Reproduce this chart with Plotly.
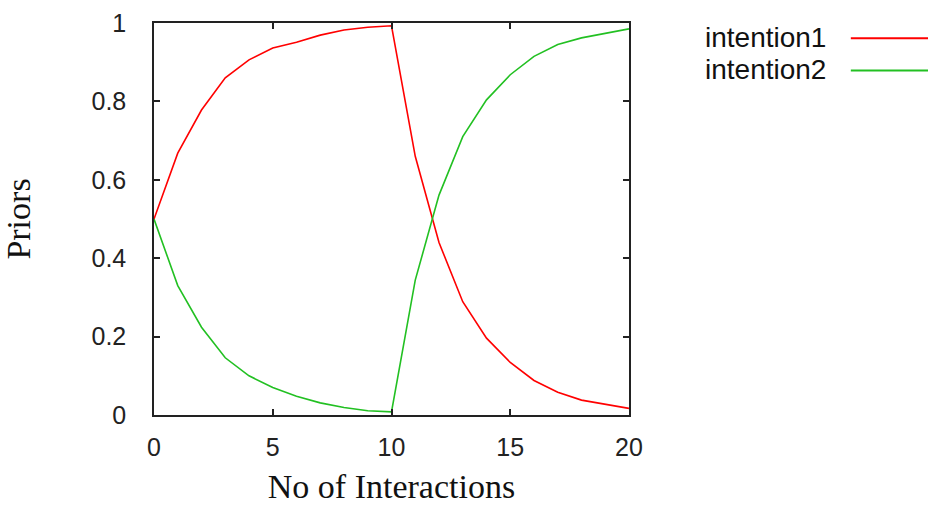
import plotly.graph_objects as go

# data
INTERACTIONS = list(range(21))
INTENTION1 = [0.5, 0.668, 0.778, 0.86, 0.906, 0.936, 0.951, 0.969, 0.982, 0.989, 0.993,
              0.66, 0.44, 0.289, 0.196, 0.134, 0.088, 0.058, 0.038, 0.027, 0.017]
INTENTION2 = [0.5, 0.33, 0.224, 0.146, 0.1, 0.07, 0.048, 0.031, 0.019, 0.011, 0.008,
              0.344, 0.561, 0.71, 0.804, 0.868, 0.915, 0.945, 0.962, 0.974, 0.985]
SERIES = [("intention1", INTENTION1, "#ff0000"), ("intention2", INTENTION2, "#22c022")]

SANS = "Liberation Sans, Arial, sans-serif"
SERIF = "Liberation Serif, Times New Roman, serif"

fig = go.Figure()
for name, values, color in SERIES:
    fig.add_trace(go.Scatter(x=INTERACTIONS, y=values, name=name, mode="lines",
                             line=dict(color=color, width=1.6), showlegend=False))

# gnuplot style key: text right aligned, sample line to its right
for i, (name, values, color) in enumerate(SERIES):
    y = 0.963 - i * 0.082
    fig.add_annotation(x=1.419, y=y, xref="paper", yref="paper", text=name,
                       showarrow=False, xanchor="right", yanchor="middle",
                       font=dict(family=SANS, size=28, color="#111111"))
    fig.add_shape(type="line", xref="paper", yref="paper", x0=1.467, x1=1.65,
                  y0=y - 0.002, y1=y - 0.002, line=dict(color=color, width=2))

axis_style = dict(showline=True, linecolor="#222222", linewidth=1.5, mirror="allticks",
                  ticks="inside", ticklen=6, tickwidth=1.5, tickcolor="#222222",
                  showgrid=False, zeroline=False,
                  tickfont=dict(family=SANS, size=25, color="#222222"))

fig.update_xaxes(range=[0, 20], dtick=5, ticklabelstandoff=9,
                 title=dict(text="No of Interactions", standoff=22,
                            font=dict(family=SERIF, size=34, color="#111111")),
                 **axis_style)
fig.update_yaxes(range=[0, 1], dtick=0.2, ticklabelstandoff=21,
                 title=dict(text="Priors", standoff=58,
                            font=dict(family=SERIF, size=34, color="#111111")),
                 **axis_style)

fig.update_layout(width=928, height=505, plot_bgcolor="white", paper_bgcolor="white",
                  margin=dict(l=154, r=299, t=23, b=90, autoexpand=False))

# drop the default page margin so the figure sits at the window corner
fig.write_html("out.html", config={"displayModeBar": False},
               post_script="document.body.style.margin='0px';")
